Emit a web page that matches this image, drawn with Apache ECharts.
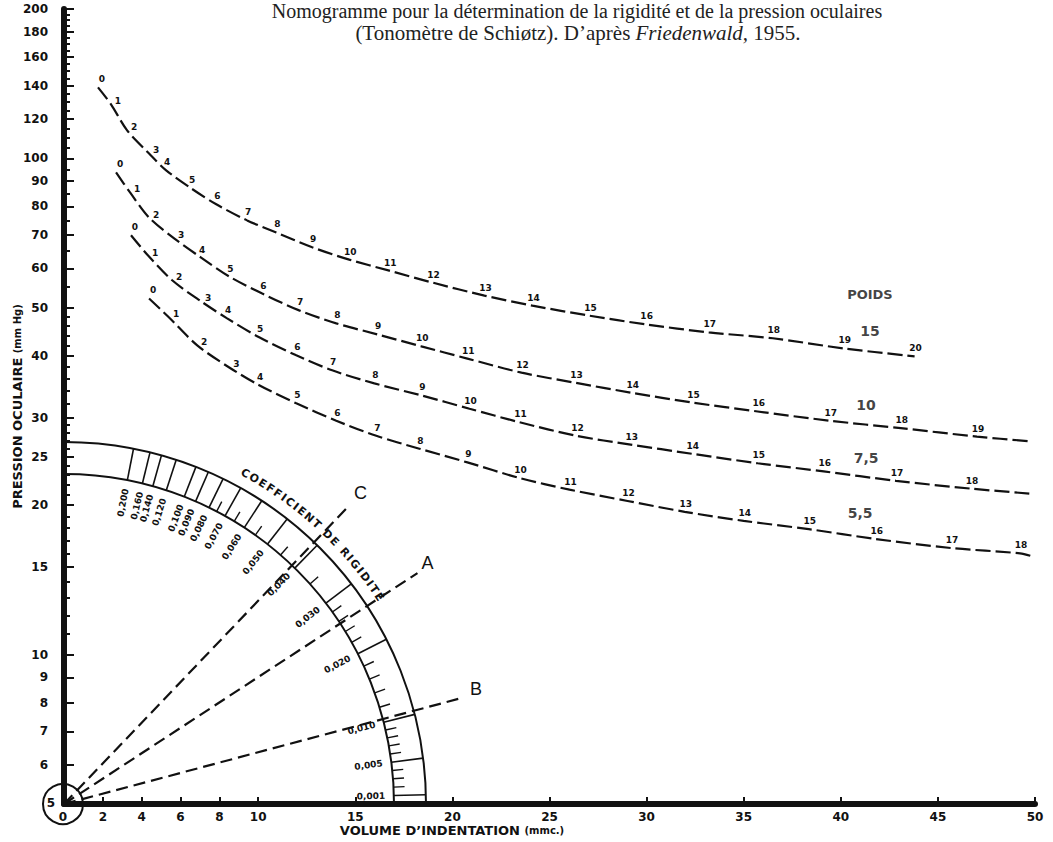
<!DOCTYPE html>
<html>
<head>
<meta charset="utf-8">
<script src="https://cdn.jsdelivr.net/npm/echarts@6/dist/echarts.min.js"></script>
<style>
html, body { margin: 0; padding: 0; background: #fff; }
#chart { width: 1053px; height: 842px; }
</style>
</head>
<body>
<div id="chart"></div>
<script>
// lectures du tonomètre 0, 1, 2 ... : volume d'indentation (mmc.) / pression (mm Hg)
const vol15 = [1.75, 2.42, 3.25, 4.38, 5.26, 6.55, 7.84, 9.43, 10.93, 12.78, 14.69, 16.75, 18.97, 21.65, 24.12, 27.06, 29.95, 33.2, 36.5, 40.15, 43.8];
const pres15 = [139, 128.5, 113.9, 102.3, 94.6, 87.0, 80.8, 75.0, 70.9, 66.2, 62.5, 59.4, 56.2, 52.9, 50.5, 48.2, 46.3, 44.6, 43.4, 41.4, 39.9];

const vol10 = [2.68, 3.40, 4.38, 5.67, 7.06, 8.51, 10.21, 12.11, 14.02, 16.13, 18.40, 20.77, 23.56, 26.34, 29.23, 32.37, 35.72, 39.43, 43.09, 47.01];
const pres10 = [93.7, 85.4, 76.0, 69.0, 63.1, 57.8, 53.4, 49.4, 46.5, 44.2, 41.8, 39.5, 37.0, 35.3, 33.7, 32.2, 30.9, 29.6, 28.6, 27.5];
const end10 = [49.8, 26.9];

const vol75 = [3.45, 4.33, 5.57, 7.06, 8.40, 10.05, 11.96, 13.81, 15.98, 18.40, 20.88, 23.45, 26.39, 29.18, 32.32, 35.72, 39.12, 42.84, 46.70];
const pres75 = [70.0, 63.7, 56.8, 51.5, 47.6, 43.6, 40.1, 37.4, 35.2, 33.3, 31.3, 29.4, 27.6, 26.5, 25.4, 24.3, 23.4, 22.4, 21.6];
const end75 = [49.8, 21.1];

const vol55 = [4.38, 5.41, 6.86, 8.51, 10.05, 11.96, 14.02, 16.08, 18.30, 20.77, 23.45, 26.03, 29.02, 31.96, 35.0, 38.35, 41.80, 45.67, 49.23];
const pres55 = [52.2, 47.8, 42.0, 37.9, 34.9, 32.1, 29.6, 27.6, 26.0, 24.4, 22.7, 21.5, 20.4, 19.4, 18.6, 17.9, 17.1, 16.4, 16.0];
const end55 = [49.8, 15.8];

// poids (g) et emplacement de leur étiquette
const weightNames = ['15', '10', '7,5', '5,5'];
const weightVol = [41.5, 41.3, 41.3, 41.0];
const weightPres = [44.8, 31.8, 24.9, 19.3];
const poidsAt = [41.5, 53.2];

// droites de rigidité A, B, C (de l'origine jusqu'à leur extrémité)
const rigLines = ['A', 'B', 'C'];
const rigEndVol = [18.2, 20.6, 14.7];
const rigEndPres = [14.6, 8.2, 20.0];

// échelle du coefficient de rigidité
const rigMain = [0.200, 0.160, 0.140, 0.120, 0.100, 0.090, 0.080, 0.070, 0.060, 0.050, 0.040, 0.030, 0.020, 0.010, 0.005, 0.001];
const rigMinor = [0.002, 0.003, 0.004, 0.006, 0.007, 0.008, 0.009, 0.012, 0.014, 0.016, 0.018, 0.022, 0.024, 0.026, 0.028, 0.035, 0.045, 0.055, 0.065, 0.075];

// graduations des axes
const xTicks = [2, 4, 6, 8, 10, 15, 20, 25, 30, 35, 40, 45, 50];
const yTicks = [6, 7, 8, 9, 10, 15, 20, 25, 30, 40, 50, 60, 70, 80, 90, 100, 120, 140, 160, 180, 200];
const yMinorTicks = [11, 12, 13, 14, 16, 17, 18, 19, 21, 22, 23, 24, 26, 27, 28, 29, 32, 34, 36, 38, 42, 44, 46, 48,
	55, 65, 75, 85, 95, 105, 110, 115, 125, 130, 135, 145, 150, 155, 165, 170, 175, 185, 190, 195];

const FONT = 'DejaVu Sans';
const R_IN = 330, R_OUT = 362, R_LABEL = 307, R_TITLE = 377;

const measureCtx = document.createElement('canvas').getContext('2d');

function curveSeries(name, vols, press, end) {
	let data = vols.map((v, i) => ({
		value: [v, press[i]],
		label: { offset: i === 0 ? [4, -8] : (i < 4 ? [7, -3] : [1, -8]) }
	}));
	if (end) data.push({ value: end, label: { show: false } });
	return {
		type: 'line',
		name: name,
		data: data,
		smooth: 0.3,
		symbol: 'circle',
		symbolSize: 1,
		itemStyle: { color: 'rgba(0,0,0,0)' },
		lineStyle: { color: '#111', width: 2.2, type: [15, 5] },
		label: {
			show: true,
			position: 'inside',
			formatter: p => String(p.dataIndex),
			fontSize: 9,
			fontWeight: 'bold',
			fontFamily: FONT,
			color: '#111'
		},
		silent: true,
		z: 3
	};
}

function rigLineSeries(i) {
	let offs = [[10, -10], [12, -8], [11, -12]];
	return {
		type: 'line',
		data: [
			{ value: [0, 5], label: { show: false } },
			{ value: [rigEndVol[i], rigEndPres[i]] }
		],
		symbol: 'circle',
		symbolSize: 1,
		itemStyle: { color: 'rgba(0,0,0,0)' },
		lineStyle: { color: '#111', width: 2.2, type: [12, 6] },
		label: {
			show: true,
			position: 'inside',
			offset: offs[i],
			formatter: rigLines[i],
			fontSize: 18,
			fontFamily: 'Liberation Sans',
			color: '#111'
		},
		silent: true,
		z: 3
	};
}

// angle (écran) de la droite de rigidité e, passant par l'origine (0, 5)
function rigAngle(api, o, e) {
	let p = api.coord([10, 5 * Math.pow(10, e * 10)]);
	return Math.atan2(o[1] - p[1], p[0] - o[0]);
}

function renderScale(params, api) {
	let o = api.coord([0, 5]);
	let children = [];
	let black = '#111';

	// anneau
	[R_IN, R_OUT].forEach(r => {
		children.push({
			type: 'arc',
			shape: { cx: o[0], cy: o[1], r: r, startAngle: -Math.PI / 2, endAngle: 0, clockwise: true },
			style: { stroke: black, fill: 'none', lineWidth: 2 }
		});
	});

	// graduations principales + valeurs
	rigMain.forEach(e => {
		let a = rigAngle(api, o, e);
		let c = Math.cos(a), s = Math.sin(a);
		children.push({
			type: 'line',
			shape: { x1: o[0] + R_IN * c, y1: o[1] - R_IN * s, x2: o[0] + R_OUT * c, y2: o[1] - R_OUT * s },
			style: { stroke: black, lineWidth: 1.6 }
		});
		children.push({
			type: 'text',
			x: o[0] + R_LABEL * c,
			y: o[1] - R_LABEL * s,
			rotation: a,
			style: {
				text: e.toFixed(3).replace('.', ','),
				font: 'bold 9px "' + FONT + '"',
				fill: black,
				align: 'center',
				verticalAlign: 'middle'
			}
		});
	});

	// petites graduations
	rigMinor.forEach(e => {
		let a = rigAngle(api, o, e);
		let c = Math.cos(a), s = Math.sin(a);
		children.push({
			type: 'line',
			shape: { x1: o[0] + R_IN * c, y1: o[1] - R_IN * s, x2: o[0] + (R_IN + 11) * c, y2: o[1] - (R_IN + 11) * s },
			style: { stroke: black, lineWidth: 1.4 }
		});
	});

	// titre courbe
	let titleFont = 'bold 11px "' + FONT + '"';
	measureCtx.font = titleFont;
	let th = 62 * Math.PI / 180;
	for (let ch of 'COEFFICIENT DE RIGIDITÉ') {
		let w = measureCtx.measureText(ch).width + 1.5;
		let a = th - (w / 2) / R_TITLE;
		if (ch !== ' ') {
			children.push({
				type: 'text',
				x: o[0] + R_TITLE * Math.cos(a),
				y: o[1] - R_TITLE * Math.sin(a),
				rotation: a - Math.PI / 2,
				style: { text: ch, font: titleFont, fill: black, align: 'center', verticalAlign: 'middle' }
			});
		}
		th -= w / R_TITLE;
	}

	// cercle de l'origine
	children.push({
		type: 'circle',
		shape: { cx: o[0] - 1, cy: o[1], r: 20 },
		style: { stroke: black, fill: 'none', lineWidth: 2 }
	});
	children.push({
		type: 'text', x: o[0] - 13, y: o[1] - 1,
		style: { text: '5', font: 'bold 12px "' + FONT + '"', fill: black, align: 'center', verticalAlign: 'middle' }
	});
	children.push({
		type: 'text', x: o[0] - 1, y: o[1] + 13,
		style: { text: '0', font: 'bold 12px "' + FONT + '"', fill: black, align: 'center', verticalAlign: 'middle' }
	});

	return { type: 'group', children: children };
}

let labelData = weightNames.map((n, i) => ({ value: [weightVol[i], weightPres[i]], name: n }));
labelData.push({
	value: poidsAt,
	name: 'POIDS',
	label: { fontSize: 13 }
});

let option = {
	animation: false,
	backgroundColor: '#fff',
	grid: { left: 64, right: 18, top: 9, bottom: 38, containLabel: false, outerBoundsMode: 'none' },
	graphic: [
		{
			type: 'text', x: 577, y: 11,
			style: {
				text: 'Nomogramme pour la détermination de la rigidité et de la pression oculaires',
				font: '20px "Liberation Serif"', lineHeight: 20, fill: '#222', align: 'center', verticalAlign: 'middle'
			}
		},
		{
			type: 'text', x: 578, y: 33,
			style: {
				text: '(Tonomètre de Schiøtz). D\u2019après {i|Friedenwald,} 1955.',
				font: '21px "Liberation Serif"', lineHeight: 21, fill: '#222', align: 'center', verticalAlign: 'middle',
				rich: { i: { font: 'italic 21px "Liberation Serif"', lineHeight: 21, fill: '#222' } }
			}
		},
		{
			type: 'text', x: 452, y: 830,
			style: {
				text: 'VOLUME D\u2019INDENTATION {s|(mmc.)}',
				font: 'bold 13px "' + FONT + '"', fill: '#111', align: 'center', verticalAlign: 'middle',
				rich: { s: { font: 'bold 10px "' + FONT + '"', fill: '#111' } }
			}
		}
	],
	xAxis: {
		type: 'value',
		min: 0,
		max: 50,
		axisLine: { onZero: false, lineStyle: { color: '#111', width: 6 } },
		axisTick: { inside: true, length: 7, customValues: xTicks, lineStyle: { color: '#111', width: 2 } },
		axisLabel: { customValues: xTicks, margin: 7, fontSize: 12, fontWeight: 'bold', fontFamily: FONT, color: '#111' },
		splitLine: { show: false }
	},
	yAxis: [
		{
			type: 'log',
			logBase: 10,
			min: 5,
			max: 200,
			name: 'PRESSION OCULAIRE {s|(mm Hg)}',
			nameLocation: 'middle',
			nameGap: 40,
			nameMoveOverlap: false,
			nameTextStyle: {
				fontSize: 13, fontWeight: 'bold', fontFamily: FONT, color: '#111', lineHeight: 14,
				rich: { s: { fontSize: 10, fontWeight: 'bold', fontFamily: FONT, color: '#111', lineHeight: 14 } }
			},
			axisLine: { onZero: false, lineStyle: { color: '#111', width: 6 } },
			axisTick: { inside: true, length: 10, customValues: yTicks, lineStyle: { color: '#111', width: 2 } },
			axisLabel: { customValues: yTicks, margin: 16, fontSize: 12, fontWeight: 'bold', fontFamily: FONT, color: '#111' },
			splitLine: { show: false }
		},
		{
			type: 'log',
			logBase: 10,
			min: 5,
			max: 200,
			position: 'left',
			axisLine: { show: false },
			axisTick: { inside: true, length: 6, customValues: yMinorTicks, lineStyle: { color: '#111', width: 2 } },
			axisLabel: { show: false },
			splitLine: { show: false }
		}
	],
	series: [
		{
			type: 'custom',
			coordinateSystem: 'cartesian2d',
			data: [[0, 5]],
			clip: false,
			silent: true,
			renderItem: renderScale,
			z: 2
		},
		curveSeries('15', vol15, pres15, null),
		curveSeries('10', vol10, pres10, end10),
		curveSeries('7,5', vol75, pres75, end75),
		curveSeries('5,5', vol55, pres55, end55),
		rigLineSeries(0),
		rigLineSeries(1),
		rigLineSeries(2),
		{
			type: 'scatter',
			data: labelData,
			symbolSize: 0,
			silent: true,
			label: {
				show: true,
				position: 'inside',
				formatter: '{b}',
				fontSize: 14,
				fontWeight: 'bold',
				fontFamily: FONT,
				color: '#111'
			},
			z: 4
		}
	]
};

const chart = echarts.init(document.getElementById('chart'), null, { renderer: 'svg' });
chart.setOption(option);
</script>
</body>
</html>
